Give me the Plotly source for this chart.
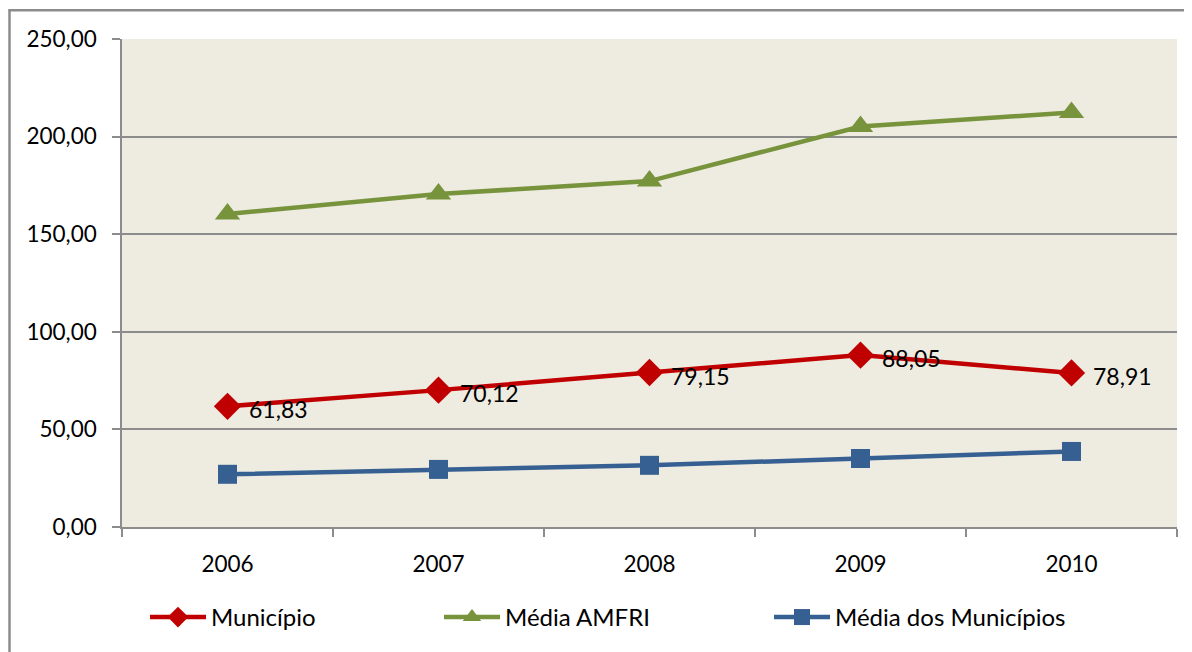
import plotly.graph_objects as go

years = ["2006", "2007", "2008", "2009", "2010"]
municipio = [61.83, 70.12, 79.15, 88.05, 78.91]
media_amfri = [160.4, 170.6, 177.2, 205.2, 212.3]
media_municipios = [27.0, 29.5, 31.6, 35.1, 38.7]
label_texts = ["61,83", "70,12", "79,15", "88,05", "78,91"]
y_ticks = [0, 50, 100, 150, 200, 250]
y_tick_labels = ["0,00", "50,00", "100,00", "150,00", "200,00", "250,00"]

FONT = "Lato"
OFF = 8  # page body margin offset
W, H = 1192 - OFF, 652 - OFF
# plot area in screen pixels: x 122..1177, y 39..530
L = 122 - OFF
R = W - (1177 - OFF)
T = 39 - OFF
B = H - (530 - OFF)
pw, ph = W - L - R, H - T - B

def px_x(p):
    return (p - OFF - L) / pw

def px_y(p):
    return (H - B - (p - OFF)) / ph

fig = go.Figure()
fig.add_trace(go.Scatter(
    x=years, y=municipio, name="Município", mode="lines+markers",
    line=dict(color="#C00000", width=4.5),
    marker=dict(symbol="diamond", size=21, color="#C00000"),
    legend="legend",
))
fig.add_trace(go.Scatter(
    x=years, y=media_amfri, name="Média AMFRI", mode="lines+markers",
    line=dict(color="#77933C", width=4.5),
    marker=dict(symbol="triangle-up", size=22, color="#77933C"),
    legend="legend2",
))
fig.add_trace(go.Scatter(
    x=years, y=media_municipios, name="Média dos Municípios", mode="lines+markers",
    line=dict(color="#376092", width=4.5),
    marker=dict(symbol="square", size=19, color="#376092"),
    legend="legend3",
))

annotations = []
for i, (v, t) in enumerate(zip(municipio, label_texts)):
    annotations.append(dict(
        x=i, y=v, xref="x", yref="y", text=t, showarrow=False,
        xanchor="left", yanchor="middle", xshift=19, yshift=-3,
        font=dict(family=FONT, size=23, color="#000000"),
    ))

def legend_at(px):
    return dict(
        orientation="h", x=px_x(px), xanchor="left", y=px_y(621), yanchor="middle",
        font=dict(family=FONT, size=24, color="#000000"),
        itemwidth=56, bgcolor="rgba(0,0,0,0)",
    )

fig.update_layout(
    width=W, height=H,
    margin=dict(l=L, r=R, t=T, b=B),
    paper_bgcolor="#FFFFFF",
    plot_bgcolor="#EEEBE0",
    separators=",.",
    font=dict(family=FONT, size=22, color="#000000"),
    showlegend=True,
    legend=legend_at(145),
    legend2=legend_at(439),
    legend3=legend_at(769),
    annotations=annotations,
    xaxis=dict(
        type="category", range=[-0.5, 4.5],
        showgrid=False, zeroline=False,
        showline=True, linecolor="#8C8C8C", linewidth=2,
        ticks="outside", ticklen=8, tickcolor="#8C8C8C", tickwidth=1.5,
        tickson="boundaries", ticklabelstandoff=16,
        tickfont=dict(family=FONT, size=22.5, color="#000000"),
        fixedrange=True,
    ),
    yaxis=dict(
        range=[0, 250], tickvals=y_ticks, ticktext=y_tick_labels,
        showgrid=True, gridcolor="#8C8C8C", gridwidth=2,
        zeroline=False,
        showline=True, linecolor="#8C8C8C", linewidth=1.5,
        ticks="outside", ticklen=8, tickcolor="#8C8C8C", tickwidth=1.5,
        ticklabelstandoff=11,
        tickfont=dict(family=FONT, size=22.5, color="#000000"),
        fixedrange=True,
    ),
    shapes=[
        dict(type="line", xref="paper", yref="paper",
             x0=px_x(9.5), x1=px_x(9.5), y0=px_y(9), y1=px_y(670),
             line=dict(color="#8C8C8C", width=2.5)),
        dict(type="line", xref="paper", yref="paper",
             x0=px_x(8.5), x1=px_x(1192), y0=px_y(10), y1=px_y(10),
             line=dict(color="#8C8C8C", width=2.5)),
    ],
)

fig.write_html("out.html")
